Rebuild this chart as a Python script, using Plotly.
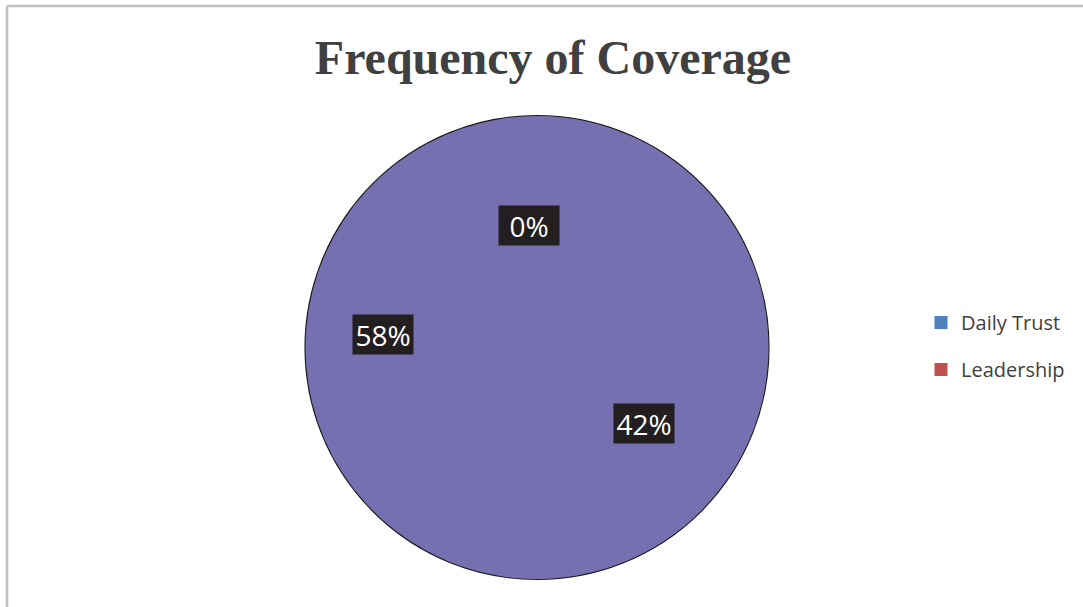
import plotly.graph_objects as go

# ---- data ----
title_text = "Frequency of Coverage"
legend_names = ["Daily Trust", "Leadership"]
legend_colors = ["#4F81BD", "#C0504D"]
slice_values = [0, 58, 42]          # percentages shown as data labels
slice_color = "#7670B1"

# label placement (pixel positions of Excel's "best fit" labels)
label_px = [(528.5, 225), (383, 334), (644, 423)]

W, H = 1083, 607
total = sum(slice_values)

fig = go.Figure()

# outline pie (single slice, gives the dark rim)
pie_dom = dict(x=[305 / W, 769 / W], y=[1 - 579 / H, 1 - 116 / H])
fig.add_trace(go.Pie(
    values=[total], labels=["all"], domain=pie_dom, sort=False,
    marker=dict(colors=[slice_color], line=dict(color="#1a1a1a", width=2)),
    textinfo="none", hoverinfo="skip", showlegend=False,
))
# data pie (no slice borders, like the reference)
fig.add_trace(go.Pie(
    values=slice_values, labels=[f"s{i}" for i in range(len(slice_values))],
    domain=pie_dom, sort=False, direction="clockwise",
    marker=dict(colors=[slice_color] * len(slice_values), line=dict(width=0)),
    textinfo="none", showlegend=False,
))

# legend entries
for i, (n, c) in enumerate(zip(legend_names, legend_colors)):
    fig.add_trace(go.Scatter(
        x=[None], y=[None], mode="markers", name=n, legendgroup=f"g{i}",
        marker=dict(symbol="square", size=13, color=c),
    ))

annotations = []
for v, (px, py) in zip(slice_values, label_px):
    annotations.append(dict(
        x=px / W, y=1 - py / H, xref="paper", yref="paper",
        text=f"{round(100 * v / total)}%", showarrow=False,
        font=dict(family="Open Sans", size=28, color="white"),
        bgcolor="#231F20", width=58, height=37, borderpad=1,
        xanchor="center", yanchor="middle",
    ))

fig.update_layout(
    width=W, height=H,
    margin=dict(l=0, r=0, t=0, b=0),
    paper_bgcolor="white", plot_bgcolor="white",
    title=dict(text=f"<b>{title_text}</b>", x=553 / W, xanchor="center",
               y=1 - 57 / H, yanchor="middle",
               font=dict(family="Liberation Serif", size=48, color="#404040")),
    xaxis=dict(visible=False), yaxis=dict(visible=False),
    legend=dict(x=921 / W, y=1 - 303 / H, xanchor="left", yanchor="top",
                font=dict(family="Open Sans", size=20, color="#404040"),
                tracegroupgap=18, bgcolor="rgba(0,0,0,0)"),
    annotations=annotations,
    shapes=[
        dict(type="line", xref="paper", yref="paper", x0=7 / W, x1=1, y0=1 - 6 / H, y1=1 - 6 / H,
             line=dict(color="#BFBFBF", width=2.5)),
        dict(type="line", xref="paper", yref="paper", x0=7 / W, x1=7 / W, y0=0, y1=1 - 6 / H,
             line=dict(color="#BFBFBF", width=2.5)),
    ],
)

fig.write_html("out.html")
